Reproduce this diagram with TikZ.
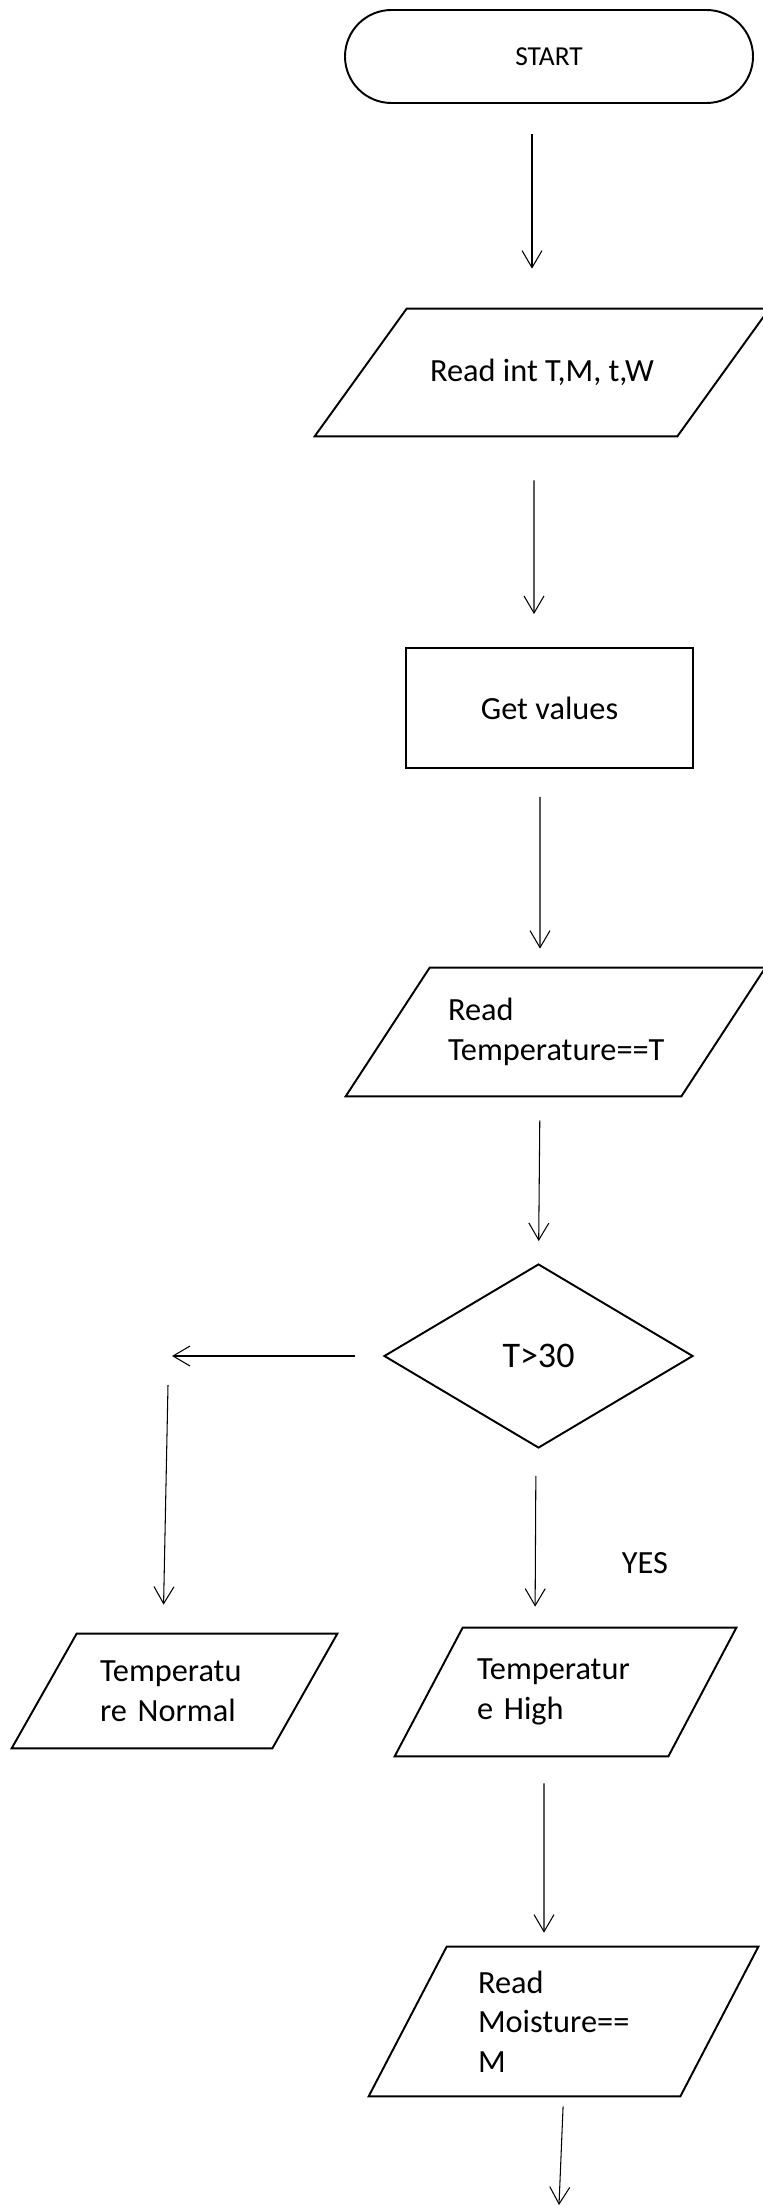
\documentclass[tikz,border=0pt]{standalone}
\usepackage{fontspec}
\setmainfont{Carlito}
\usetikzlibrary{shapes.geometric, arrows.meta, positioning}

\begin{document}
\begin{tikzpicture}[>={Straight Barb[length=3.4mm, width=4mm]}, font=\fontsize{18.4}{22.5}\selectfont,
	box/.style={draw, line width=1.1pt, inner sep=0pt},
	terminal/.style={box, rectangle, rounded corners=9.3mm},
	process/.style={box, rectangle},
	io/.style={rectangle, inner sep=0pt},
	decision/.style={box, diamond},
	flow/.style={->, line width=0.6pt}]
				\useasboundingbox (0,0) rectangle (15.24,-44.12);
				
				\node[terminal, minimum width=8.16cm, minimum height=1.86cm, font=\fontsize{15.6}{18}\selectfont] (start) at (10.98, -1.13) {START};
				\node[io, minimum width=9.08cm, minimum height=2.54cm] (readvars) at (10.84, -7.45) {Read int T,M, t,W};
				\node[process, minimum width=5.74cm, minimum height=2.40cm] (values) at (10.99, -14.16) {Get values};
				\node[io, minimum width=8.38cm, minimum height=2.56cm, text width=4.3cm, align=left] (readtemp) at (11.11, -20.64) {Read\\Temperature==T};
				\node[decision, minimum width=6.18cm, minimum height=3.68cm, font=\fontsize{20.5}{24}\selectfont] (check) at (10.77, -27.12) {T>30};
				\node[io, minimum width=6.50cm, minimum height=2.28cm, text width=2.98cm, align=left] (tnormal) at (3.49, -33.82) {Temperatu\\re Normal};
				\node[io, minimum width=6.82cm, minimum height=2.56cm, text width=3.54cm, align=left] (thigh) at (11.31, -33.84) {Temperatur\\e High};
				\node[io, minimum width=7.78cm, minimum height=2.98cm, text width=3.42cm, align=left] (readmoist) at (11.27, -40.43) {Read\\Moisture==\\M};
				\node (yes) at (12.9, -31.26) {YES};
				
				% parallelogram outlines round the io nodes
				\foreach \n/\s in {readvars/1.84, readtemp/1.68, tnormal/1.30, thigh/1.36, readmoist/1.56}
					\draw[line width=1.1pt] ([xshift=\s cm]\n.north west) -- (\n.north east) -- ([xshift=-\s cm]\n.south east) -- (\n.south west) -- cycle;
				
				\coordinate (nobranch) at (3.44, -27.12);
				\coordinate (nodown) at (3.36, -27.70);
				\coordinate (next) at (11.18, -44.10);
				
				\draw[flow, shorten <=6mm, shorten >=8mm] ([xshift=-3.4mm]start.south) -- ([xshift=-2mm]readvars.north);
				\draw[flow, shorten <=8.8mm, shorten >=6.6mm] ([xshift=-1.6mm]readvars.south) -- ([xshift=-3.1mm]values.north);
				\draw[flow, shorten <=5.6mm, shorten >=3.8mm] ([xshift=-1.9mm]values.south) -- ([xshift=-3.1mm]readtemp.north);
				\draw[flow, shorten <=4.8mm, shorten >=4.4mm] ([xshift=-3.1mm]readtemp.south) -- (check.north);
				\draw[flow, shorten <=5.4mm, shorten >=4.2mm] ([xshift=-0.5mm]check.south) -- ([xshift=-6.1mm]thigh.north);
				\draw[flow, shorten <=5.6mm] (check.west) -- (nobranch);
				\draw[flow, shorten >=5.8mm] (nodown) -- ([xshift=-2.3mm]tnormal.north);
				\draw[flow, shorten <=5.4mm, shorten >=2.8mm] ([xshift=-4.3mm]thigh.south) -- ([xshift=-3.9mm]readmoist.north);
				\draw[flow, shorten <=2mm] (readmoist.south) -- (next);
			\end{tikzpicture}
\end{document}
